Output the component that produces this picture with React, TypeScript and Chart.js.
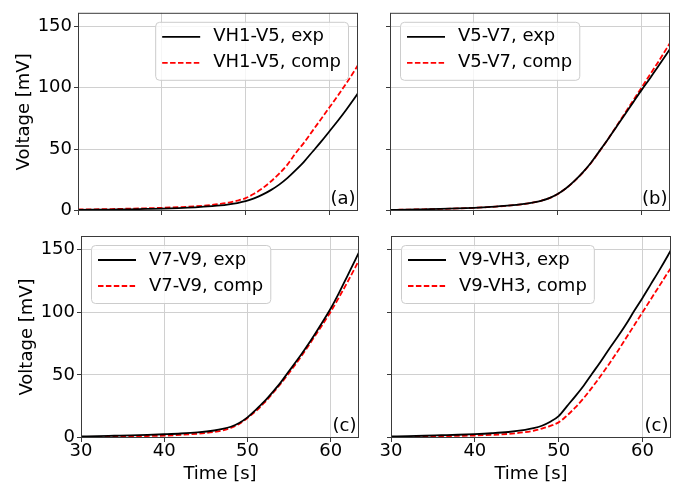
import React, { useEffect, useRef } from 'react';
import { Chart, registerables } from 'chart.js';

Chart.register(...registerables);

// ---------- data ----------
const time = [30, 32, 34, 36, 38, 40, 42, 44, 46, 47, 48, 49, 50, 51, 52, 53, 54, 55, 56, 57, 58, 59, 60, 61, 62, 63, 63.5];

const vh1v5Exp = [0.3, 0.5, 0.7, 0.9, 1.2, 1.5, 1.9, 2.5, 3.4, 4.0, 4.9, 6.0, 7.5, 9.8, 12.8, 16.5, 21, 26.5, 33, 40, 48, 56, 64.5, 73, 82, 91.5, 96.5];
const vh1v5Comp = [0.8, 0.9, 1.1, 1.4, 1.7, 2.1, 2.6, 3.3, 4.5, 5.3, 6.4, 7.9, 10, 13.5, 18, 23.5, 30, 37.5, 47, 55.5, 65, 74.5, 84, 93.5, 103.5, 114, 119.5];

const v5v7Exp = [0.4, 0.6, 0.9, 1.2, 1.6, 2.1, 2.8, 3.8, 5.3, 6.4, 7.8, 10, 13.3, 18, 24, 31, 39, 48.5, 58, 68, 78, 88, 98, 107.5, 117.5, 127.5, 132.5];
const v5v7Comp = [0.4, 0.6, 0.9, 1.2, 1.6, 2.1, 2.8, 3.8, 5.2, 6.3, 7.8, 10, 13.3, 18, 23.8, 30.8, 38.8, 48.3, 58, 68.5, 79, 89.5, 100, 110.5, 121, 132, 137.5];

const v7v9Exp = [0.8, 1.0, 1.3, 1.6, 2.0, 2.5, 3.1, 4.0, 5.5, 6.7, 8.5, 11.5, 16, 22, 28.5, 36, 44, 53, 62, 71.5, 81.5, 92, 103, 115.5, 129, 142.5, 149.5];
const v7v9Comp = [0.3, 0.4, 0.6, 0.8, 1.1, 1.4, 2.0, 2.9, 4.3, 5.5, 7.5, 10.8, 15.5, 21, 27.5, 35, 43, 51.5, 60.5, 70, 80, 90, 100.5, 112, 124, 136.5, 143];

const v9vh3Exp = [0.8, 1.0, 1.3, 1.7, 2.1, 2.6, 3.3, 4.3, 6.0, 7.3, 9.3, 12.5, 17, 25, 33, 41.5, 51, 60.5, 70.5, 80, 90, 101, 111.5, 122.5, 133.5, 145, 151];
const v9vh3Comp = [0.3, 0.4, 0.6, 0.9, 1.2, 1.5, 2.0, 2.8, 4.2, 5.3, 7.0, 9.2, 12, 17.5, 24, 31.5, 40, 49, 58.5, 68.5, 79, 89.5, 100, 110.5, 121, 131.5, 136.5];

const expLabels = ['VH1-V5, exp', 'V5-V7, exp', 'V7-V9, exp', 'V9-VH3, exp'];
const compLabels = ['VH1-V5, comp', 'V5-V7, comp', 'V7-V9, comp', 'V9-VH3, comp'];
const panelTags = ['(a)', '(b)', '(c)', '(c)'];

const xTicks = [30, 40, 50, 60];
const yTicks = [0, 50, 100, 150];
const xMin = 30;
const xMax = 63.4;
const yMin = -0.5;
const yMax = 161;

const xTitle = 'Time [s]';
const yTitle = 'Voltage [mV]';

// ---------- layout ----------
const W = 681;
const H = 484;
const FONT = '"DejaVu Sans", sans-serif';
const YW = 70;
const XH = 50;

type Area = { left: number; top: number; right: number; bottom: number };
type PanelCfg = {
  area: Area;
  exp: number[];
  comp: number[];
  idx: number;
  legendRight: boolean;
  showX: boolean;
  showY: boolean;
};

const panels: PanelCfg[] = [
  { area: { left: 78, top: 9, right: 358, bottom: 211 }, exp: vh1v5Exp, comp: vh1v5Comp, idx: 0, legendRight: true, showX: false, showY: true },
  { area: { left: 390, top: 9, right: 670, bottom: 211 }, exp: v5v7Exp, comp: v5v7Comp, idx: 1, legendRight: false, showX: false, showY: false },
  { area: { left: 81, top: 236, right: 359, bottom: 438 }, exp: v7v9Exp, comp: v7v9Comp, idx: 2, legendRight: false, showX: true, showY: true },
  { area: { left: 391, top: 236, right: 671, bottom: 438 }, exp: v9vh3Exp, comp: v9vh3Comp, idx: 3, legendRight: false, showX: true, showY: false },
];

function makeDecorPlugin(p: PanelCfg) {
  return {
    id: 'decor' + p.idx,
    afterDatasetsDraw(chart: any) {
      const ctx = chart.ctx as CanvasRenderingContext2D;
      const a = chart.chartArea;
      ctx.save();
      // frame
      ctx.strokeStyle = '#3a3a3a';
      ctx.lineWidth = 1;
      ctx.strokeRect(a.left + 0.5, a.top + 0.5, a.right - a.left - 1, a.bottom - a.top - 1);

      // legend
      ctx.font = '18px ' + FONT;
      const ds = chart.data.datasets;
      let tw = 0;
      ds.forEach((d: any) => { tw = Math.max(tw, ctx.measureText(d.label).width); });
      const padL = 7, lineLen = 38, gap = 13, padR = 7;
      const bw = padL + lineLen + gap + tw + padR;
      const bh = 58;
      const bx = p.legendRight ? a.right - 10 - bw : a.left + 10;
      const by = a.top + 9;
      ctx.beginPath();
      if ((ctx as any).roundRect) (ctx as any).roundRect(bx + 0.5, by + 0.5, bw, bh, 4);
      else ctx.rect(bx + 0.5, by + 0.5, bw, bh);
      ctx.fillStyle = 'rgba(255,255,255,0.8)';
      ctx.fill();
      ctx.strokeStyle = '#cccccc';
      ctx.lineWidth = 1;
      ctx.stroke();
      ds.forEach((d: any, i: number) => {
        const cy = by + 15 + i * 26;
        ctx.beginPath();
        ctx.strokeStyle = d.borderColor;
        ctx.lineWidth = d.borderWidth;
        ctx.setLineDash(d.borderDash || []);
        ctx.moveTo(bx + padL, cy);
        ctx.lineTo(bx + padL + lineLen, cy);
        ctx.stroke();
        ctx.setLineDash([]);
        ctx.fillStyle = '#000';
        ctx.textAlign = 'left';
        ctx.textBaseline = 'middle';
        ctx.fillText(d.label, bx + padL + lineLen + gap, cy);
      });

      // panel tag
      ctx.fillStyle = '#000';
      ctx.textAlign = 'right';
      ctx.textBaseline = 'middle';
      ctx.fillText(panelTags[p.idx], a.right - 2.5, a.bottom - 12);
      ctx.restore();
    },
  };
}

function Panel({ p }: { p: PanelCfg }) {
  const ref = useRef<HTMLCanvasElement | null>(null);
  useEffect(() => {
    if (!ref.current) return;
    const a = p.area;
    const chart = new Chart(ref.current, {
      type: 'line',
      data: {
        datasets: [
          {
            label: expLabels[p.idx],
            data: time.map((t, i) => ({ x: t, y: p.exp[i] })),
            borderColor: '#000000',
            borderWidth: 1.8,
            pointRadius: 0,
            fill: false,
            cubicInterpolationMode: 'monotone',
          },
          {
            label: compLabels[p.idx],
            data: time.map((t, i) => ({ x: t, y: p.comp[i] })),
            borderColor: '#ff0000',
            borderWidth: 1.8,
            borderDash: [5.5, 2.4],
            pointRadius: 0,
            fill: false,
            cubicInterpolationMode: 'monotone',
          },
        ],
      } as any,
      options: {
        responsive: false,
        animation: false,
        devicePixelRatio: 1,
        events: [],
        layout: {
          padding: {
            left: a.left - YW,
            right: W - a.right,
            top: a.top,
            bottom: H - a.bottom - XH,
          },
        },
        plugins: { legend: { display: false }, tooltip: { enabled: false } },
        scales: {
          x: {
            type: 'linear',
            position: 'bottom',
            min: xMin,
            max: xMax,
            afterBuildTicks: (s: any) => { s.ticks = xTicks.map((v) => ({ value: v })); },
            afterFit: (s: any) => { s.height = XH; },
            grid: { color: '#d0d0d0', lineWidth: 1, tickColor: '#3a3a3a', tickLength: 4, drawTicks: true },
            border: { display: false },
            ticks: {
              autoSkip: false,
              maxRotation: 0,
              padding: 0,
              color: '#000',
              font: { family: FONT, size: 18, lineHeight: 1 },
              callback: (v: any) => (p.showX ? String(v) : ''),
            },
            title: {
              display: p.showX,
              text: xTitle,
              color: '#000',
              font: { family: FONT, size: 18 },
              padding: { top: 0, bottom: 3 },
            },
          },
          y: {
            type: 'linear',
            min: yMin,
            max: yMax,
            afterBuildTicks: (s: any) => { s.ticks = yTicks.map((v) => ({ value: v })); },
            afterFit: (s: any) => { s.width = YW; },
            grid: { color: '#d0d0d0', lineWidth: 1, tickColor: '#3a3a3a', tickLength: 4, drawTicks: true },
            border: { display: false },
            ticks: {
              autoSkip: false,
              padding: 2,
              color: '#000',
              font: { family: FONT, size: 18 },
              callback: (v: any) => (p.showY ? String(v) : ''),
            },
            title: {
              display: p.showY,
              text: yTitle,
              color: '#000',
              font: { family: FONT, size: 18 },
              padding: { top: 6, bottom: 0 },
            },
          },
        },
      } as any,
      plugins: [makeDecorPlugin(p)],
    });
    return () => chart.destroy();
  }, [p]);
  return (
    <canvas
      ref={ref}
      width={W}
      height={H}
      style={{ position: 'absolute', left: 0, top: 0, width: W, height: H }}
    />
  );
}

export default function App() {
  return (
    <div style={{ position: 'fixed', left: 0, top: 0, width: W, height: H, background: '#ffffff' }}>
      {panels.map((p) => (
        <Panel key={p.idx} p={p} />
      ))}
    </div>
  );
}
